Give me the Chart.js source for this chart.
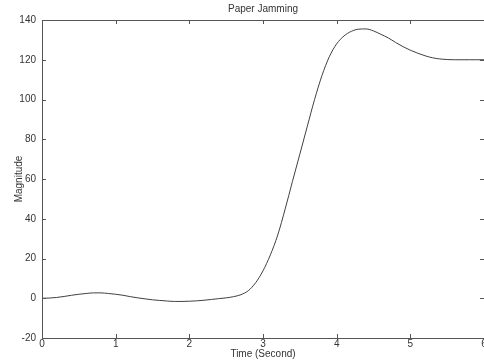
<!DOCTYPE html>
<html>
<head>
<meta charset="utf-8">
<script src="https://cdn.jsdelivr.net/npm/chart.js@4"></script>
<style>
html,body{margin:0;padding:0;background:#fff;}
#wrap{width:484px;height:363px;position:relative;}
</style>
</head>
<body>
<div id="wrap"><canvas id="c" width="484" height="363"></canvas></div>
<script>
const chartTitle = "Paper Jamming";
const xLabel = "Time (Second)";
const yLabel = "Magnitude";
const timeValues = [0,0.1,0.2,0.3,0.4,0.5,0.6,0.7,0.8,0.9,1.0,1.1,1.2,1.3,1.4,1.5,1.6,1.7,1.8,1.9,2.0,2.1,2.2,2.3,2.4,2.5,2.6,2.7,2.8,2.9,3.0,3.1,3.2,3.3,3.4,3.5,3.6,3.7,3.8,3.9,4.0,4.1,4.2,4.3,4.4,4.5,4.6,4.7,4.8,4.9,5.0,5.1,5.2,5.3,5.4,5.5,5.6,5.7,5.8,5.9,6.0];
const magnitudeValues = [0,0.1,0.4,0.9,1.5,2.0,2.4,2.7,2.7,2.4,2.0,1.5,0.8,0.2,-0.3,-0.8,-1.1,-1.4,-1.6,-1.6,-1.5,-1.3,-1.0,-0.6,-0.2,0.2,0.8,1.8,3.8,7.8,13.8,21.8,31.8,44.8,58.8,72.5,86.3,100,112,121.5,128,132,134.3,135.4,135.5,134.5,132.8,131,128.7,126.6,124.8,123.3,122,121,120.4,120.1,120,120,120,120,120];
const xTicks = [0,1,2,3,4,5,6];
const yTicks = [-20,0,20,40,60,80,100,120,140];

const axisColor = '#555555';
const textColor = '#333333';
const fontFamily = "'Liberation Sans', Arial, sans-serif";

const points = timeValues.map((t,i)=>({x:t,y:magnitudeValues[i]}));

const boxTicks = {
  id:'boxTicks',
  afterDraw(chart){
    const {ctx, chartArea:a, scales:{x,y}} = chart;
    ctx.save();
    ctx.strokeStyle = axisColor;
    ctx.lineWidth = 1;
    ctx.beginPath();
    ctx.rect(Math.round(a.left)+0.5, Math.round(a.top)+0.5, Math.round(a.right-a.left), Math.round(a.bottom-a.top));
    const L = 4;
    xTicks.forEach(v=>{
      const px = Math.round(x.getPixelForValue(v))+0.5;
      ctx.moveTo(px, a.bottom); ctx.lineTo(px, a.bottom-L);
      ctx.moveTo(px, a.top); ctx.lineTo(px, a.top+L);
    });
    yTicks.forEach(v=>{
      const py = Math.round(y.getPixelForValue(v))+0.5;
      ctx.moveTo(a.left, py); ctx.lineTo(a.left+L, py);
      ctx.moveTo(a.right, py); ctx.lineTo(a.right-L, py);
    });
    ctx.stroke();
    ctx.restore();
  }
};

new Chart(document.getElementById('c'), {
  type:'line',
  data:{datasets:[{
    data:points,
    borderColor:'#404040',
    borderWidth:1,
    pointRadius:0,
    fill:false,
    cubicInterpolationMode:'monotone'
  }]},
  options:{
    responsive:false,
    animation:false,
    layout:{padding:{top:0,right:0,left:0,bottom:0}, autoPadding:false},
    plugins:{
      legend:{display:false},
      tooltip:{enabled:false},
      title:{display:true, text:chartTitle, fullSize:false, color:textColor,
        font:{family:fontFamily, size:10, weight:'normal'}, padding:{top:3,bottom:5}}
    },
    scales:{
      x:{type:'linear', min:0, max:6,
        afterBuildTicks(s){ s.ticks = xTicks.map(v=>({value:v})); },
        afterFit(s){ s.height = 25; s.paddingLeft=0; s.paddingRight=0; },
        grid:{display:false, drawTicks:false},
        border:{display:false},
        ticks:{color:textColor, padding:0, maxRotation:0, autoSkip:false, font:{family:fontFamily,size:10}},
        title:{display:true, text:xLabel, color:textColor, padding:{top:0,bottom:3}, font:{family:fontFamily,size:10}}
      },
      y:{min:-20, max:140,
        afterBuildTicks(s){ s.ticks = yTicks.map(v=>({value:v})); },
        afterFit(s){ s.width = 42; s.paddingTop=0; s.paddingBottom=0; },
        grid:{display:false, drawTicks:false},
        border:{display:false},
        ticks:{color:textColor, padding:6, autoSkip:false, font:{family:fontFamily,size:10}},
        title:{display:true, text:yLabel, color:textColor, padding:{top:13,bottom:0}, font:{family:fontFamily,size:10}}
      }
    }
  },
  plugins:[boxTicks]
});
</script>
</body>
</html>
